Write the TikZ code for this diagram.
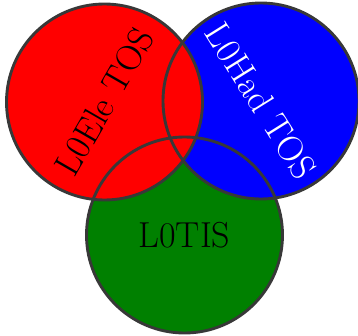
\documentclass[tikz,border=0pt]{standalone}
\usepackage{tikz}

\begin{document}
\begin{tikzpicture}[set/.style={circle,minimum size=4.312cm,inner sep=0pt,font=\fontsize{22.6}{27}\selectfont},ring/.style={draw=black!78,line width=1.8pt}]
\useasboundingbox (0,0) rectangle (7.876,7.392);
\node[set,fill=green!50!black] (tis) at (4.059,2.222) {L0TIS};
\node[set,fill=blue,text=white,rotate=-58] (had) at (5.742,5.17) {L0Had TOS};
\node[set,fill=red,rotate=60] (ele) at (2.299,5.148) {L0Ele TOS};
\draw[ring] (tis.center) circle (2.156cm);
\draw[ring] (had.center) circle (2.156cm);
\draw[ring] (ele.center) circle (2.156cm);
\end{tikzpicture}
\end{document}
